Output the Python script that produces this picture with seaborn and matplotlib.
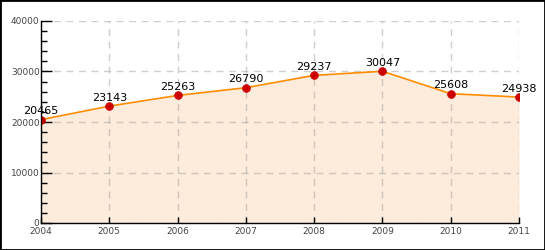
import matplotlib
matplotlib.use("Agg")
import matplotlib.pyplot as plt
import seaborn as sns
import pandas as pd
from matplotlib.ticker import MultipleLocator
from matplotlib.patches import Rectangle

years = [2004, 2005, 2006, 2007, 2008, 2009, 2010, 2011]
values = [20465, 23143, 25263, 26790, 29237, 30047, 25608, 24938]
y_ticks = [0, 10000, 20000, 30000, 40000]

df = pd.DataFrame({"year": years, "value": values})

sns.set_style("white")
plt.rcParams['font.family'] = ['DejaVu Sans']

fig = plt.figure(figsize=(5.45, 2.5), dpi=100)
ax = fig.add_axes([41/545, 1-223/250, 478/545, 202/250])

ax.fill_between(df["year"], df["value"], 0, color="#fdebdb", zorder=0.2, linewidth=0)
sns.lineplot(data=df, x="year", y="value", ax=ax, color="#ff8c00", linewidth=1.2, zorder=3)
sns.scatterplot(data=df, x="year", y="value", ax=ax, color="#cc0000", s=32, edgecolor="#cc0000", zorder=4)

for x, y in zip(years, values):
    ax.annotate(str(y), (x, y), xytext=(0, 2.5), textcoords="offset points",
                ha="center", va="bottom", fontsize=8, color="black", zorder=5)

ax.set_xlim(2004, 2011)
ax.set_ylim(0, 40000)
ax.set_xticks(years)
ax.set_xticklabels([str(y) for y in years])
ax.set_yticks(y_ticks)
ax.set_yticklabels([str(t) for t in y_ticks])
ax.yaxis.set_minor_locator(MultipleLocator(2000))
ax.set_xlabel("")
ax.set_ylabel("")

ax.set_axisbelow(True)
ax.grid(True, which="major", color="#a0a0a0", alpha=0.5, linestyle=(0, (5, 4)), linewidth=1)

for s in ["top", "right"]:
    ax.spines[s].set_visible(False)
for s in ["left", "bottom"]:
    ax.spines[s].set_color("black")
    ax.spines[s].set_linewidth(1)
    ax.spines[s].set_zorder(6)

ax.tick_params(axis="y", which="major", direction="in", length=8, width=1, color="black",
               labelsize=6.5, labelcolor="#444444", pad=1, left=True)
ax.tick_params(axis="y", which="minor", direction="in", length=4, width=1, color="black", left=True)
ax.tick_params(axis="x", which="major", direction="in", length=4, width=1, color="black",
               labelsize=6.5, labelcolor="#444444", pad=3, bottom=True)

fig.patches.append(Rectangle((0, 0), 1, 1, transform=fig.transFigure, fill=False,
                             edgecolor="black", linewidth=2, zorder=10))

fig.savefig("out.png", dpi=100)
